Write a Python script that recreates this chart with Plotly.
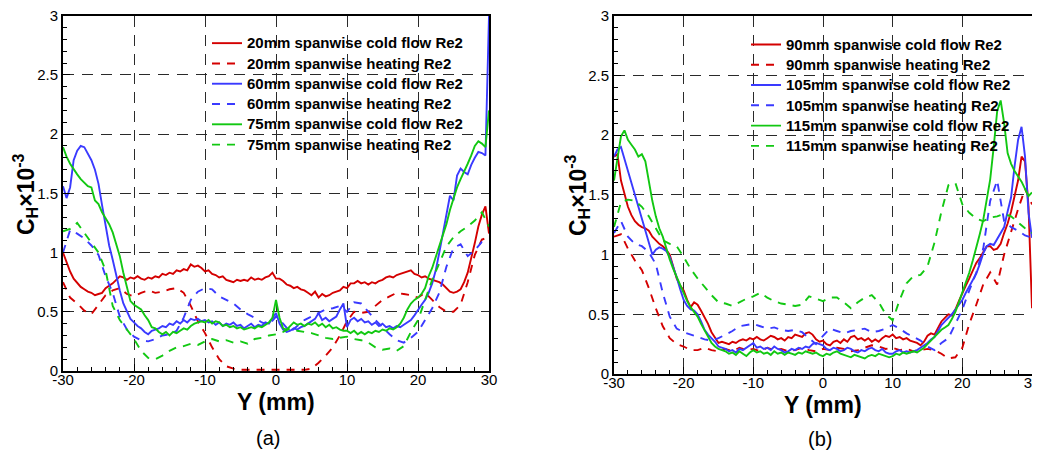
import plotly.graph_objects as go

FONT = "Arial, 'Liberation Sans', sans-serif"
# The page body has an 8px margin, so the figure is sized to fill the rest of
# the 1040x454 window and screen positions are converted with that offset.
OFF = 8
W, H = 1040 - OFF, 454 - OFF

# ---------------- data ----------------
X_HALF = [-30 + 0.5 * i for i in range(121)]   # 0.5 mm sampling (cold flow)
X_ONE = list(range(-30, 31))                   # 1 mm sampling (heating)

X_TICKS = [-30, -20, -10, 0, 10, 20, 30]
X_TICKTEXT = ["-30", "-20", "-10", "0", "10", "20", "30"]
Y_TICKS = [0, 0.5, 1, 1.5, 2, 2.5, 3]
Y_TICKTEXT = ["0", "0.5", "1", "1.5", "2", "2.5", "3"]

# Panel (a)
L_RED_COLD = [1.00, 0.92, 0.84, 0.78, 0.74, 0.71, 0.69, 0.67, 0.66, 0.64,
              0.65, 0.66, 0.70, 0.72, 0.74, 0.77, 0.80, 0.79, 0.77, 0.79,
              0.78, 0.80, 0.78, 0.77, 0.79, 0.78, 0.80, 0.79, 0.82, 0.81,
              0.83, 0.82, 0.85, 0.84, 0.86, 0.85, 0.90, 0.88, 0.89, 0.87,
              0.84, 0.85, 0.82, 0.81, 0.79, 0.80, 0.77, 0.76, 0.75, 0.77,
              0.76, 0.77, 0.76, 0.79, 0.77, 0.78, 0.77, 0.79, 0.80, 0.83,
              0.78, 0.78, 0.76, 0.73, 0.72, 0.70, 0.71, 0.69, 0.68, 0.66,
              0.64, 0.67, 0.62, 0.65, 0.63, 0.64, 0.66, 0.67, 0.68, 0.71,
              0.70, 0.74, 0.74, 0.76, 0.74, 0.75, 0.73, 0.75, 0.74, 0.76,
              0.77, 0.79, 0.80, 0.79, 0.81, 0.82, 0.83, 0.84, 0.85, 0.82,
              0.81, 0.79, 0.80, 0.78, 0.77, 0.76, 0.75, 0.73, 0.70, 0.67,
              0.66, 0.67, 0.69, 0.75, 0.83, 0.95, 1.08, 1.22, 1.32, 1.39,
              1.16]
L_BLUE_COLD = [1.56, 1.46, 1.55, 1.78, 1.86, 1.90, 1.89, 1.84, 1.78, 1.70,
               1.58, 1.40, 1.22, 1.06, 0.94, 0.80, 0.68, 0.57, 0.50, 0.44,
               0.41, 0.38, 0.36, 0.33, 0.31, 0.34, 0.35, 0.36, 0.38, 0.37,
               0.40, 0.39, 0.42, 0.40, 0.43, 0.41, 0.44, 0.43, 0.44, 0.42,
               0.43, 0.41, 0.42, 0.39, 0.41, 0.38, 0.40, 0.39, 0.41, 0.38,
               0.39, 0.36, 0.38, 0.40, 0.37, 0.39, 0.38, 0.41, 0.40, 0.44,
               0.49, 0.40, 0.35, 0.33, 0.34, 0.36, 0.35, 0.37, 0.38, 0.40,
               0.42, 0.44, 0.49, 0.43, 0.45, 0.42, 0.44, 0.46, 0.52, 0.57,
               0.37, 0.43, 0.45, 0.42, 0.44, 0.41, 0.42, 0.39, 0.41, 0.38,
               0.40, 0.37, 0.38, 0.36, 0.38, 0.37, 0.39, 0.41, 0.43, 0.47,
               0.52, 0.56, 0.60, 0.66, 0.74, 0.85, 1.00, 1.16, 1.33, 1.48,
               1.44, 1.65, 1.71, 1.68, 1.66, 1.74, 1.80, 1.85, 1.84, 1.82,
               3.00]
L_GREEN_COLD = [1.89, 1.81, 1.75, 1.70, 1.66, 1.62, 1.59, 1.56, 1.55, 1.44,
                1.41, 1.34, 1.29, 1.24, 1.17, 1.07, 0.97, 0.83, 0.71, 0.59,
                0.56, 0.54, 0.52, 0.47, 0.43, 0.37, 0.36, 0.33, 0.31, 0.33,
                0.30, 0.33, 0.32, 0.34, 0.36, 0.35, 0.38, 0.40, 0.41, 0.42,
                0.41, 0.43, 0.40, 0.42, 0.41, 0.38, 0.39, 0.37, 0.38, 0.36,
                0.37, 0.35, 0.36, 0.37, 0.36, 0.38, 0.37, 0.39, 0.41, 0.45,
                0.60, 0.45, 0.36, 0.35, 0.38, 0.41, 0.39, 0.40, 0.38, 0.40,
                0.39, 0.41, 0.38, 0.40, 0.37, 0.39, 0.36, 0.37, 0.35, 0.34,
                0.34, 0.32, 0.34, 0.31, 0.33, 0.31, 0.33, 0.32, 0.34, 0.33,
                0.35, 0.34, 0.36, 0.35, 0.37, 0.40, 0.45, 0.52, 0.57, 0.60,
                0.62, 0.65, 0.70, 0.80, 0.87, 0.96, 1.04, 1.13, 1.24, 1.36,
                1.46, 1.55, 1.62, 1.68, 1.75, 1.82, 1.90, 1.94, 1.92, 1.89,
                2.20]
L_RED_HEAT = [0.75, 0.62, 0.57, 0.51, 0.48, 0.56, 0.64, 0.68, 0.70, 0.65,
              0.63, 0.66, 0.68, 0.66, 0.67, 0.69, 0.70, 0.66, 0.55, 0.42,
              0.32, 0.20, 0.10, 0.04, 0.02, 0.01, 0.01, 0.01, 0.01, 0.01,
              0.01, 0.01, 0.01, 0.01, 0.01, 0.02, 0.07, 0.13, 0.20, 0.30,
              0.42, 0.50, 0.49, 0.50, 0.55, 0.60, 0.63, 0.66, 0.65, 0.64,
              0.62, 0.66, 0.60, 0.54, 0.50, 0.50, 0.56, 0.75, 0.98, 1.11,
              1.13]
L_BLUE_HEAT = [1.00, 1.19, 1.16, 1.12, 1.06, 0.98, 0.80, 0.66, 0.46, 0.35,
               0.29, 0.26, 0.25, 0.27, 0.30, 0.31, 0.34, 0.45, 0.60, 0.67,
               0.70, 0.69, 0.63, 0.60, 0.57, 0.52, 0.48, 0.45, 0.41, 0.39,
               0.46, 0.40, 0.33, 0.38, 0.43, 0.46, 0.49, 0.52, 0.53, 0.55,
               0.50, 0.58, 0.57, 0.50, 0.43, 0.37, 0.31, 0.26, 0.24, 0.28,
               0.33, 0.43, 0.53, 0.66, 0.88, 1.04, 1.07, 0.97, 1.02, 1.09,
               1.10]
L_GREEN_HEAT = [1.18, 1.20, 1.25, 1.17, 1.08, 1.00, 0.85, 0.55, 0.43, 0.35,
                0.27, 0.17, 0.11, 0.10, 0.13, 0.17, 0.20, 0.21, 0.23, 0.22,
                0.25, 0.27, 0.25, 0.26, 0.24, 0.25, 0.23, 0.27, 0.28, 0.30,
                0.31, 0.33, 0.36, 0.34, 0.33, 0.32, 0.30, 0.28, 0.27, 0.28,
                0.29, 0.27, 0.26, 0.24, 0.20, 0.18, 0.19, 0.17, 0.21, 0.33,
                0.43, 0.60, 0.77, 0.91, 1.05, 1.13, 1.18, 1.22, 1.27, 1.34,
                1.22]

# Panel (b)
R_RED_COLD = [1.82, 1.84, 1.62, 1.50, 1.40, 1.33, 1.28, 1.25, 1.23, 1.22,
              1.20, 1.15, 1.12, 1.09, 1.07, 1.04, 1.00, 0.90, 0.80, 0.74,
              0.70, 0.62, 0.56, 0.60, 0.58, 0.53, 0.48, 0.42, 0.35, 0.30,
              0.26, 0.27, 0.26, 0.25, 0.27, 0.26, 0.28, 0.29, 0.28, 0.30,
              0.29, 0.31, 0.29, 0.28, 0.30, 0.32, 0.31, 0.29, 0.30, 0.28,
              0.31, 0.30, 0.33, 0.32, 0.31, 0.34, 0.35, 0.33, 0.29, 0.27,
              0.28, 0.25, 0.24, 0.27, 0.28, 0.26, 0.29, 0.27, 0.31, 0.32,
              0.29, 0.30, 0.28, 0.30, 0.27, 0.29, 0.27, 0.30, 0.32, 0.31,
              0.33, 0.30, 0.31, 0.29, 0.30, 0.28, 0.27, 0.26, 0.24, 0.27,
              0.32, 0.34, 0.33, 0.38, 0.44, 0.47, 0.50, 0.49, 0.54, 0.61,
              0.68, 0.74, 0.80, 0.87, 0.93, 0.97, 1.02, 1.07, 1.07, 1.04,
              1.05, 1.09, 1.18, 1.26, 1.36, 1.48, 1.62, 1.82, 1.78, 1.40,
              0.55]
R_BLUE_COLD = [1.82, 1.88, 1.90, 1.80, 1.68, 1.58, 1.48, 1.39, 1.29, 1.19,
               1.09, 1.00, 1.04, 1.06, 1.05, 1.03, 0.98, 0.90, 0.81, 0.71,
               0.62, 0.57, 0.54, 0.53, 0.50, 0.44, 0.37, 0.33, 0.30, 0.27,
               0.23, 0.22, 0.21, 0.19, 0.20, 0.18, 0.21, 0.20, 0.22, 0.24,
               0.26, 0.22, 0.23, 0.21, 0.22, 0.20, 0.23, 0.21, 0.20, 0.18,
               0.19, 0.21, 0.20, 0.22, 0.21, 0.23, 0.22, 0.25, 0.26, 0.25,
               0.24, 0.21, 0.20, 0.22, 0.21, 0.19, 0.20, 0.22, 0.21, 0.19,
               0.18, 0.20, 0.19, 0.21, 0.22, 0.20, 0.19, 0.21, 0.18, 0.17,
               0.17, 0.19, 0.20, 0.18, 0.19, 0.18, 0.19, 0.20, 0.22, 0.24,
               0.26, 0.29, 0.31, 0.36, 0.41, 0.44, 0.47, 0.50, 0.54, 0.58,
               0.62, 0.68, 0.73, 0.78, 0.84, 0.92, 1.01, 1.07, 1.09, 1.08,
               1.13, 1.18, 1.23, 1.36, 1.48, 1.74, 1.96, 2.07, 1.82, 1.35,
               1.14]
R_GREEN_COLD = [1.62, 1.82, 1.99, 2.04, 1.96, 1.92, 1.88, 1.82, 1.84, 1.78,
                1.60, 1.45, 1.32, 1.22, 1.15, 1.05, 0.96, 0.88, 0.81, 0.74,
                0.68, 0.61, 0.56, 0.52, 0.48, 0.42, 0.37, 0.31, 0.26, 0.23,
                0.21, 0.20, 0.19, 0.17, 0.18, 0.16, 0.19, 0.17, 0.15, 0.18,
                0.20, 0.18, 0.19, 0.17, 0.18, 0.16, 0.19, 0.17, 0.18, 0.16,
                0.18, 0.17, 0.16, 0.18, 0.17, 0.19, 0.18, 0.17, 0.18, 0.16,
                0.15, 0.17, 0.16, 0.18, 0.19, 0.17, 0.16, 0.15, 0.14, 0.16,
                0.15, 0.14, 0.13, 0.15, 0.16, 0.15, 0.17, 0.16, 0.15, 0.14,
                0.15, 0.17, 0.16, 0.18, 0.17, 0.18, 0.19, 0.18, 0.20, 0.22,
                0.25, 0.28, 0.31, 0.34, 0.37, 0.39, 0.41, 0.46, 0.52, 0.60,
                0.68, 0.76, 0.85, 0.95, 1.05, 1.17, 1.29, 1.45, 1.63, 1.90,
                2.20, 2.29, 2.10, 1.85, 1.76, 1.70, 1.66, 1.61, 1.55, 1.49,
                1.52]
R_RED_HEAT = [1.15, 1.17, 1.05, 0.95, 0.87, 0.72, 0.55, 0.40, 0.30, 0.25,
              0.23, 0.20, 0.20, 0.22, 0.20, 0.19, 0.21, 0.19, 0.22, 0.20,
              0.21, 0.19, 0.22, 0.20, 0.21, 0.19, 0.20, 0.22, 0.20, 0.19,
              0.21, 0.20, 0.22, 0.21, 0.19, 0.20, 0.22, 0.24, 0.23, 0.21,
              0.22, 0.20, 0.21, 0.19, 0.20, 0.21, 0.20, 0.17, 0.13, 0.14,
              0.22, 0.42, 0.58, 0.75, 0.85, 0.75, 1.00, 1.20, 1.38, 1.55,
              1.42]
R_BLUE_HEAT = [1.18, 1.28, 1.15, 1.09, 1.07, 1.02, 0.92, 0.68, 0.48, 0.38,
               0.35, 0.33, 0.31, 0.29, 0.28, 0.30, 0.33, 0.36, 0.40, 0.41,
               0.42, 0.40, 0.38, 0.39, 0.37, 0.36, 0.37, 0.35, 0.30, 0.25,
               0.32, 0.38, 0.36, 0.34, 0.36, 0.37, 0.38, 0.35, 0.36, 0.38,
               0.41, 0.38, 0.34, 0.31, 0.28, 0.23, 0.20, 0.26, 0.30, 0.42,
               0.54, 0.70, 0.85, 1.05, 1.45, 1.62, 1.28, 1.23, 1.20, 1.16,
               1.14]
R_GREEN_HEAT = [1.23, 1.44, 1.46, 1.45, 1.40, 1.32, 1.22, 1.12, 1.09, 1.07,
                0.98, 0.88, 0.80, 0.73, 0.66, 0.60, 0.59, 0.57, 0.60, 0.63,
                0.65, 0.68, 0.64, 0.61, 0.59, 0.58, 0.57, 0.58, 0.65, 0.63,
                0.61, 0.64, 0.64, 0.60, 0.55, 0.60, 0.64, 0.66, 0.60, 0.50,
                0.45, 0.62, 0.76, 0.82, 0.83, 0.90, 1.10, 1.36, 1.58, 1.60,
                1.42, 1.35, 1.30, 1.28, 1.31, 1.32, 1.34, 1.32, 1.27, 1.22,
                1.18]

for arr in (L_RED_COLD, L_BLUE_COLD, L_GREEN_COLD, R_RED_COLD, R_BLUE_COLD, R_GREEN_COLD):
    assert len(arr) == len(X_HALF), len(arr)
for arr in (L_RED_HEAT, L_BLUE_HEAT, L_GREEN_HEAT, R_RED_HEAT, R_BLUE_HEAT, R_GREEN_HEAT):
    assert len(arr) == len(X_ONE), len(arr)

RED, BLUE, GREEN = "#d40000", "#3a3aff", "#12c812"
DASH = "8px,7px"

LEFT = [
    ("20mm spanwise cold flow Re2", X_HALF, L_RED_COLD, RED, "solid"),
    ("20mm spanwise heating Re2", X_ONE, L_RED_HEAT, RED, DASH),
    ("60mm spanwise cold flow Re2", X_HALF, L_BLUE_COLD, BLUE, "solid"),
    ("60mm spanwise heating Re2", X_ONE, L_BLUE_HEAT, BLUE, DASH),
    ("75mm spanwise cold flow Re2", X_HALF, L_GREEN_COLD, GREEN, "solid"),
    ("75mm spanwise heating Re2", X_ONE, L_GREEN_HEAT, GREEN, DASH),
]
RIGHT = [
    ("90mm spanwise cold flow Re2", X_HALF, R_RED_COLD, RED, "solid"),
    ("90mm spanwise heating Re2", X_ONE, R_RED_HEAT, RED, DASH),
    ("105mm spanwise cold flow Re2", X_HALF, R_BLUE_COLD, BLUE, "solid"),
    ("105mm spanwise heating Re2", X_ONE, R_BLUE_HEAT, BLUE, DASH),
    ("115mm spanwise cold flow Re2", X_HALF, R_GREEN_COLD, GREEN, "solid"),
    ("115mm spanwise heating Re2", X_ONE, R_GREEN_HEAT, GREEN, DASH),
]

# legend rows are spaced by the legend font size; the text itself is drawn larger
LEGEND_ROW_FONT = 13.3
LEGEND_TEXT_FONT = 15


def legend_name(s):
    return '<span style="font-size:%dpx">%s</span>' % (LEGEND_TEXT_FONT, s)


fig = go.Figure()
for name, xs, ys, col, dash in LEFT:
    fig.add_trace(go.Scatter(x=xs, y=ys, mode="lines", name=legend_name(name),
                             line=dict(color=col, width=1.9, dash=dash),
                             xaxis="x", yaxis="y", legend="legend"))
for name, xs, ys, col, dash in RIGHT:
    fig.add_trace(go.Scatter(x=xs, y=ys, mode="lines", name=legend_name(name),
                             line=dict(color=col, width=1.9, dash=dash),
                             xaxis="x2", yaxis="y2", legend="legend2"))


def px_x(p):
    """screen x pixel -> paper fraction"""
    return (p - OFF) / W


def px_y(p):
    """screen y pixel -> paper fraction"""
    return 1 - (p - OFF) / H


def axis_common(vals, text, minor_dtick, rng, standoff):
    return dict(range=rng, tickmode="array", tickvals=vals, ticktext=text,
                automargin=False, ticklabelstandoff=standoff,
                ticklabeloverflow="allow",
                ticks="inside", ticklen=7, tickwidth=1, tickcolor="black",
                showline=True, linewidth=2, linecolor="black", mirror=True,
                showgrid=True, gridcolor="#2a2a2a", gridwidth=1, griddash="11px,8px",
                zeroline=False,
                minor=dict(tickmode="linear", tick0=0, dtick=minor_dtick, ticks="inside",
                           ticklen=4, tickwidth=1, tickcolor="black", showgrid=False),
                tickfont=dict(family=FONT, size=15, color="black"))


xa1 = axis_common(X_TICKS, X_TICKTEXT, 2, [-30, 30], -6)
xa1.update(domain=[px_x(63), px_x(489)], anchor="y")
xa2 = axis_common(X_TICKS, X_TICKTEXT, 2, [-30, 30], -6)
xa2.update(domain=[px_x(614), px_x(1032)], anchor="y2")
ya1 = axis_common(Y_TICKS, Y_TICKTEXT, 0.1, [0, 3], 0)
ya1.update(domain=[px_y(371), px_y(15.7)], anchor="x")
ya2 = axis_common(Y_TICKS, Y_TICKTEXT, 0.1, [0, 3], 0)
ya2.update(domain=[px_y(374), px_y(15.7)], anchor="x2")

legend_common = dict(xanchor="left", yanchor="top", bgcolor="rgba(0,0,0,0)",
                     borderwidth=0, tracegroupgap=0,
                     font=dict(family=FONT, size=LEGEND_ROW_FONT, color="black",
                               weight="bold"))

ytitle = "<b>C<sub>H</sub>×10<sup>-3</sup></b>"


def ann(text, x, y, size, angle=0):
    return dict(text=text, x=px_x(x), y=px_y(y), xref="paper", yref="paper",
                xanchor="center", yanchor="middle", textangle=angle,
                showarrow=False, font=dict(family=FONT, size=size, color="black"))


annotations = [
    ann("<b>Y (mm)</b>", 276, 402, 23),
    ann("<b>Y (mm)</b>", 823, 405, 23),
    ann(ytitle, 25, 194, 23, -90),
    ann(ytitle, 577, 195, 23, -90),
    ann("(a)", 268, 438, 20),
    ann("(b)", 820, 439, 20),
]

fig.update_layout(
    width=W, height=H,
    margin=dict(l=0, r=0, t=0, b=0, autoexpand=False),
    paper_bgcolor="white", plot_bgcolor="white",
    xaxis=xa1, xaxis2=xa2, yaxis=ya1, yaxis2=ya2,
    legend=dict(x=px_x(207), y=px_y(28), **legend_common),
    legend2=dict(x=px_x(746), y=px_y(29.3), **legend_common),
    annotations=annotations,
    showlegend=True,
)

fig.write_html("out.html")
